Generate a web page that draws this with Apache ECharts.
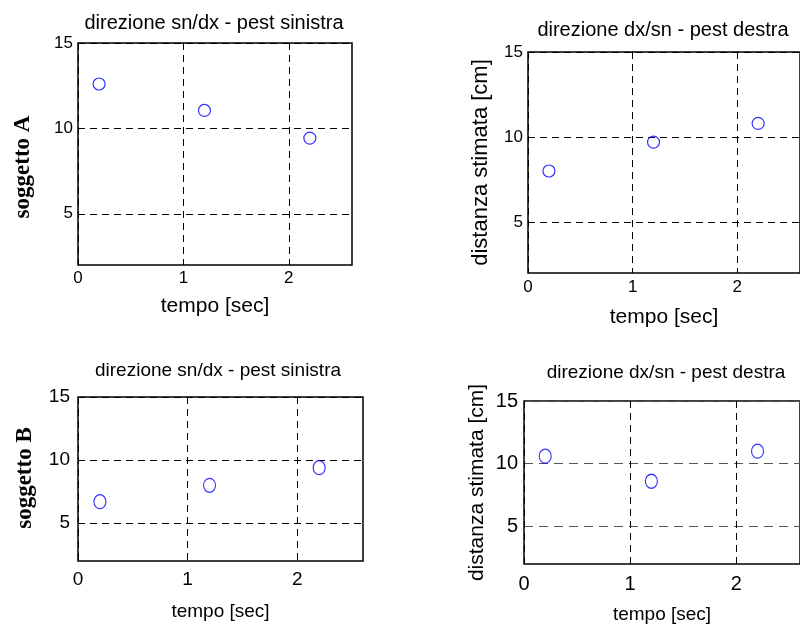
<!DOCTYPE html>
<html>
<head>
<meta charset="utf-8">
<script src="https://cdn.jsdelivr.net/npm/echarts@6/dist/echarts.min.js"></script>
<style>html,body{margin:0;padding:0;background:#fff}#c{width:800px;height:628px}</style>
</head>
<body>
<div id="c"></div>
<script>
// ---- data ----
var tempo = [0.2, 1.2, 2.2];
var A_sinistra = [12.6, 11.05, 9.43];
var A_destra = [8.0, 9.7, 10.8];
var B_sinistra = [6.7, 8.0, 9.4];
var B_destra = [10.6, 8.6, 11.0];
var xTicks = [0, 1, 2];
var yTicks = [5, 10, 15];
var titoli = ['direzione sn/dx - pest sinistra', 'direzione dx/sn - pest destra', 'direzione sn/dx - pest sinistra', 'direzione dx/sn - pest destra'];
var nomeX = 'tempo [sec]';
var nomeY = 'distanza stimata [cm]';
var soggetti = ['soggetto A', 'soggetto B'];

function pairs(xs, ys) { return xs.map(function (x, i) { return [x, ys[i]]; }); }

var grids = [
  {left: 78, top: 43, width: 274, height: 222},
  {left: 528, top: 52, width: 273, height: 221},
  {left: 78, top: 397, width: 285, height: 164},
  {left: 524, top: 401, width: 286, height: 163}
];
var fontTick = [17, 17, 19, 20];
var xMargin = [5, 6, 9, 10];
var yMargin = [5, 5, 8, 6];
var nameGapX = [31, 34, 41, 41];
var nameFontX = [21, 21, 19, 19];
var nameGapY = [0, 36, 0, 36];
var nameFontY = [0, 22, 0, 21];
var dashH = [[7, 5], [7, 5], [7, 5], [9, 6]];
var colH = ['#000', '#000', '#000', '#555'];
var symSize = [12, 12, [12, 14], [12, 14]];
var seriesData = [A_sinistra, A_destra, B_sinistra, B_destra];
var FONT = '"Liberation Sans", Arial, Helvetica, sans-serif';

var xAxes = [], yAxes = [], series = [];
grids.forEach(function (g, i) {
  g.show = true; g.borderColor = '#000'; g.borderWidth = 1.5; g.backgroundColor = '#fff';
  g.containLabel = false;
  xAxes.push({
    type: 'value', gridIndex: i, min: 0, max: 2.6,
    name: nomeX, nameLocation: 'middle', nameGap: nameGapX[i],
    nameTextStyle: {fontFamily: FONT, fontSize: nameFontX[i], color: '#000'},
    axisLine: {show: false},
    axisTick: {show: false, customValues: xTicks},
    axisLabel: {customValues: xTicks, fontFamily: FONT, fontSize: fontTick[i], color: '#000', margin: xMargin[i]},
    splitLine: {show: true, lineStyle: {color: '#000', type: [7, 5], width: 1}}
  });
  yAxes.push({
    type: 'value', gridIndex: i, min: 2, max: 15,
    name: (i % 2 === 1) ? nomeY : '', nameLocation: 'middle', nameGap: nameGapY[i],
    nameTextStyle: {fontFamily: FONT, fontSize: nameFontY[i] || 18, color: '#000'},
    axisLine: {show: false},
    axisTick: {show: false, customValues: yTicks},
    axisLabel: {customValues: yTicks, fontFamily: FONT, fontSize: fontTick[i], color: '#000', margin: yMargin[i]},
    splitLine: {show: true, lineStyle: {color: colH[i], type: dashH[i], width: 1}}
  });
  series.push({
    type: 'scatter', xAxisIndex: i, yAxisIndex: i,
    data: pairs(tempo, seriesData[i]),
    symbol: 'circle', symbolSize: symSize[i],
    itemStyle: {color: 'rgba(255,255,255,0)', borderColor: '#0000ff', borderWidth: 1.2},
    emphasis: {disabled: true}
  });
});

var titlePos = [[214, 23], [663, 30], [218, 371], [666, 373]];
var titleFont = [20, 20, 19, 19];
var graphic = titoli.map(function (t, i) {
  return {type: 'text', x: titlePos[i][0], y: titlePos[i][1],
    style: {text: t, fill: '#000', font: titleFont[i] + 'px ' + FONT, textAlign: 'center', textVerticalAlign: 'middle'}};
});
graphic.push({type: 'text', x: 23, y: 167, rotation: Math.PI / 2,
  style: {text: soggetti[0], fill: '#000', font: 'bold 23px "Liberation Serif", "Times New Roman", serif', textAlign: 'center', textVerticalAlign: 'middle'}});
graphic.push({type: 'text', x: 25, y: 478, rotation: Math.PI / 2,
  style: {text: soggetti[1], fill: '#000', font: 'bold 23px "Liberation Serif", "Times New Roman", serif', textAlign: 'center', textVerticalAlign: 'middle'}});

var chart = echarts.init(document.getElementById('c'), null, {renderer: 'canvas'});
chart.setOption({
  animation: false,
  backgroundColor: '#fff',
  grid: grids,
  xAxis: xAxes,
  yAxis: yAxes,
  series: series,
  graphic: graphic
});
</script>
</body>
</html>
